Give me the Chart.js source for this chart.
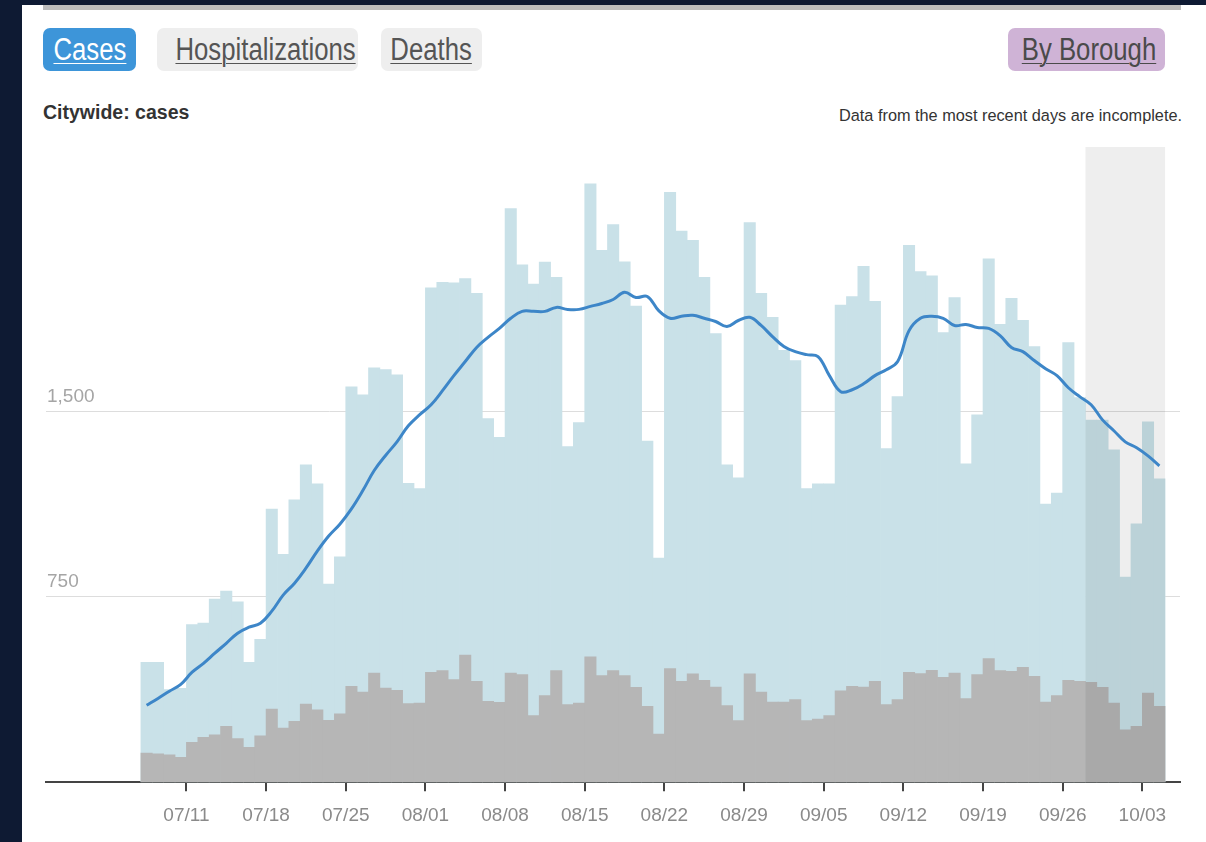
<!DOCTYPE html>
<html><head><meta charset="utf-8">
<script src="https://cdn.jsdelivr.net/npm/chart.js@4.4.1/dist/chart.umd.min.js"></script>
<style>
html,body{margin:0;padding:0;}
body{width:1206px;height:842px;background:#0e1a33;position:relative;overflow:hidden;font-family:"Liberation Sans",Arial,sans-serif;}
#panel{position:absolute;left:22px;top:5px;width:1184px;height:837px;background:#fff;}
#topbar{position:absolute;left:43px;top:5px;width:1138px;height:5px;background:#bdbdbd;}
.btn{position:absolute;top:28px;height:43px;border-radius:7px;font-size:31px;line-height:43px;text-align:center;white-space:nowrap;}
.btn span{display:inline-block;transform:scaleX(0.83);text-decoration:underline;text-decoration-thickness:1px;text-underline-offset:3px;}
#b1{left:43px;width:93px;background:#3d95d9;color:#fff;}
#b2{left:157px;width:201px;background:#eeeeee;color:#555;}
#b3{left:381px;width:101px;background:#eeeeee;color:#555;}
#b4{left:1008px;width:157px;background:#cfb3d6;color:#4a4a4a;}
#title{position:absolute;left:43px;top:101px;font-weight:bold;font-size:19.5px;color:#333;}
#note{position:absolute;right:24px;top:106px;font-size:16.3px;color:#333;}
#c{position:absolute;left:0;top:0;}
</style></head>
<body>
<div id="panel"></div>
<div id="topbar"></div>
<div class="btn" id="b1"><span>Cases</span></div>
<div class="btn" id="b2"><span>Hospitalizations</span></div>
<div class="btn" id="b3"><span>Deaths</span></div>
<div class="btn" id="b4"><span>By Borough</span></div>
<div id="title">Citywide: cases</div>
<div id="note">Data from the most recent days are incomplete.</div>
<canvas id="c" width="1206" height="842"></canvas>
<script>
const dates = ['07/07','07/08','07/09','07/10','07/11','07/12','07/13','07/14','07/15','07/16','07/17','07/18','07/19','07/20','07/21','07/22','07/23','07/24','07/25','07/26','07/27','07/28','07/29','07/30','07/31',
'08/01','08/02','08/03','08/04','08/05','08/06','08/07','08/08','08/09','08/10','08/11','08/12','08/13','08/14','08/15','08/16','08/17','08/18','08/19','08/20','08/21','08/22','08/23','08/24','08/25','08/26','08/27','08/28','08/29','08/30','08/31',
'09/01','09/02','09/03','09/04','09/05','09/06','09/07','09/08','09/09','09/10','09/11','09/12','09/13','09/14','09/15','09/16','09/17','09/18','09/19','09/20','09/21','09/22','09/23','09/24','09/25','09/26','09/27','09/28','09/29','09/30',
'10/01','10/02','10/03','10/04'];
const totalCases = [485,485,375,380,638,644,741,773,730,485,578,1105,922,1142,1284,1207,802,912,1600,1567,1677,1669,1648,1209,1188,
2000,2022,2020,2038,1978,1471,1395,2321,2093,2015,2104,2043,1358,1455,2421,2152,2256,2105,1926,1380,907,2387,2230,2192,2043,1815,1284,1231,2264,1978,1881,
1747,1706,1188,1207,1207,1930,1965,2087,1946,1350,1560,2172,2066,2049,1819,1961,1288,1486,2118,1853,1958,1869,1763,1125,1170,1779,1556,1465,1465,1345,
830,1045,1458,1227];
const grayCases = [118,115,111,101,161,182,192,226,176,141,188,296,219,246,316,293,250,277,388,365,442,381,372,318,320,
445,452,415,514,408,327,323,442,435,270,350,452,314,320,507,431,452,431,384,307,195,460,408,438,412,385,310,249,438,365,324,
324,334,249,255,270,370,388,385,408,314,334,445,439,453,424,442,338,435,500,452,449,465,428,324,350,412,408,404,384,320,
212,226,361,307];
const avgCases = [311,339,368,396,445,481,522,562,603,627,643,692,757,805,866,935,996,1045,1106,1180,1261,1322,1377,1442,1487,
1527,1584,1645,1702,1759,1800,1836,1877,1905,1905,1905,1921,1913,1913,1925,1937,1953,1982,1961,1965,1908,1877,1885,1889,1877,1864,1844,1868,1881,1848,1803,
1763,1742,1730,1722,1645,1580,1588,1612,1645,1669,1702,1827,1877,1885,1877,1848,1852,1840,1836,1807,1759,1742,1706,1673,1645,1596,1560,1527,1466,1422,
1377,1353,1320,1280];
const xTickLabels = ['07/11','07/18','07/25','08/01','08/08','08/15','08/22','08/29','09/05','09/12','09/19','09/26','10/03'];
const yTicks = [750, 1500];
const incompleteFrom = '09/28';

const tickFont = {family: '"Liberation Sans",Arial,sans-serif', size: 19};
const toPts = arr => arr.map((v, i) => ({x: i + 0.5, y: v}));

const bandPlugin = {
  id: 'incompleteBand',
  beforeDatasetDraw(chart, args) {
    if (chart.data.datasets[args.index].type !== 'line') return;
    const xs = chart.scales.x, a = chart.chartArea, ctx = chart.ctx;
    const x0 = xs.getPixelForValue(dates.indexOf(incompleteFrom));
    const x1 = xs.getPixelForValue(dates.length);
    ctx.save();
    ctx.fillStyle = 'rgba(0,0,0,0.065)';
    ctx.fillRect(x0, a.top, x1 - x0, a.bottom - a.top);
    ctx.restore();
  }
};

new Chart(document.getElementById('c'), {
  type: 'bar',
  data: {
    datasets: [
      {type: 'line', label: '7-day average', data: toPts(avgCases), borderColor: '#3d86c8', borderWidth: 3,
       pointRadius: 0, tension: 0.4, fill: false, order: 0},
      {type: 'bar', label: 'gray', data: toPts(grayCases), backgroundColor: '#b6b6b6', grouped: false,
       barPercentage: 1, categoryPercentage: 1, borderWidth: 0, order: 1},
      {type: 'bar', label: 'cases', data: toPts(totalCases), backgroundColor: '#c9e1e8', grouped: false,
       barPercentage: 1, categoryPercentage: 1, borderWidth: 0, order: 2}
    ]
  },
  options: {
    responsive: false, animation: false, devicePixelRatio: 1,
    layout: {padding: {left: 44, top: 147, right: 26, bottom: 2}},
    plugins: {legend: {display: false}, tooltip: {enabled: false}},
    scales: {
      x: {
        type: 'linear', min: -8.34, max: 91.31, offset: false,
        afterBuildTicks: s => { s.ticks = xTickLabels.map(l => ({value: dates.indexOf(l)})); },
        ticks: {autoSkip: false, maxRotation: 0, padding: 13, color: '#8a8a8a', font: tickFont,
                callback: v => dates[v]},
        grid: {offset: false, drawOnChartArea: false, drawTicks: true, tickLength: 9, color: '#444', lineWidth: 2},
        border: {display: true, color: '#444', width: 2}
      },
      y: {
        min: 0, max: 2570,
        afterBuildTicks: s => { s.ticks = yTicks.map(v => ({value: v})); },
        ticks: {mirror: true, padding: 1, labelOffset: -15, color: '#a5a5a5', font: tickFont,
                callback: v => v.toLocaleString('en-US')},
        grid: {drawTicks: false, color: '#dddddd', lineWidth: 1},
        border: {display: false}
      }
    }
  },
  plugins: [bandPlugin]
});
</script>
</body></html>
